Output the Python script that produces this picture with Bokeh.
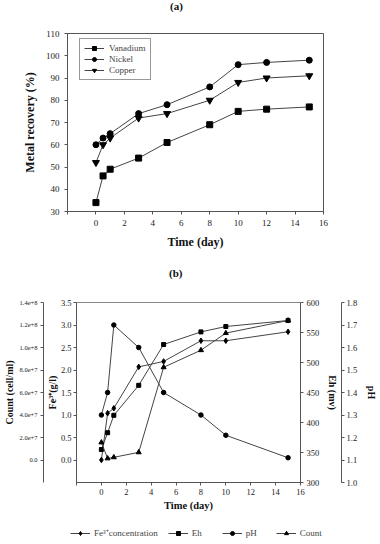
from bokeh.plotting import figure
from bokeh.models import Range1d, LinearAxis, FixedTicker, Legend, LegendItem, PrintfTickFormatter, Div
from bokeh.embed import file_html
from bokeh.resources import INLINE

FONT = "Liberation Serif"

# ---------------- data (a) ----------------
days_a = [0, 0.5, 1, 3, 5, 8, 10, 12, 15]
vanadium = [34, 46, 49, 54, 61, 69, 75, 76, 77]
nickel = [60, 63, 65, 74, 78, 86, 96, 97, 98]
copper = [52, 60, 63, 72, 74, 80, 88, 90, 91]
x_ticks = [-2, 0, 2, 4, 6, 8, 10, 12, 14, 16]
a_y_ticks = [30, 40, 50, 60, 70, 80, 90, 100, 110]

# ---------------- data (b) ----------------
days_b = [0, 0.5, 1, 3, 5, 8, 10, 15]
fe3 = [0.0, 1.04, 1.15, 2.07, 2.19, 2.65, 2.65, 2.85]
eh = [355, 383, 412, 462, 530, 551, 560, 570]
ph = [1.30, 1.40, 1.70, 1.60, 1.40, 1.30, 1.21, 1.11]
count = [1.56e7, 1.4e6, 2.4e6, 6.8e6, 8.24e7, 9.76e7, 1.128e8, 1.24e8]
fe_ticks = [0.0, 0.5, 1.0, 1.5, 2.0, 2.5, 3.0, 3.5]
eh_ticks = [300, 350, 400, 450, 500, 550, 600]
ph_ticks = [1.0, 1.1, 1.2, 1.3, 1.4, 1.5, 1.6, 1.7, 1.8]
count_ticks = [0.0, 2e7, 4e7, 6e7, 8e7, 1e8, 1.2e8, 1.4e8]
count_labels = ["0.0", "2.0e+7", "4.0e+7", "6.0e+7", "8.0e+7", "1.0e+8", "1.2e+8", "1.4e+8"]

LINE = "#444444"
AX = "#555555"


def style_axis(ax, tick_size="8.5px", label_size="11.5px"):
    ax.axis_line_color = AX
    ax.major_tick_line_color = AX
    ax.minor_tick_line_color = None
    ax.major_tick_in = 0
    ax.major_tick_out = 3
    ax.major_label_text_font = FONT
    ax.major_label_text_font_size = tick_size
    ax.major_label_text_color = "#222222"
    ax.axis_label_text_font = FONT
    ax.axis_label_text_font_style = "bold"
    ax.axis_label_text_font_size = label_size
    ax.axis_label_text_color = "#111111"


def title_div(text, height, left):
    return Div(text=text, width=380, height=height,
               styles={"font-family": "'Liberation Serif', serif", "font-size": "11px",
                       "font-weight": "bold", "color": "#111111", "line-height": f"{height}px",
                       "padding-left": f"{left}px", "box-sizing": "border-box",
                       "margin": "0", "white-space": "nowrap"})


# ================= figure (a) =================
ta = title_div("(a)", 12, 170)

pa = figure(width=380, height=254, output_backend="svg", toolbar_location=None, title=None,
            x_range=Range1d(-2, 16), y_range=Range1d(30, 110),
            min_border_left=67, min_border_right=57, min_border_top=21, min_border_bottom=55)
pa.xgrid.visible = False
pa.ygrid.visible = False
pa.outline_line_color = AX

pa.xaxis.ticker = FixedTicker(ticks=x_ticks)
pa.xaxis.major_label_overrides = {-2: ""}
pa.yaxis.ticker = FixedTicker(ticks=a_y_ticks)
pa.xaxis.axis_label = "Time (day)"
pa.yaxis.axis_label = "Metal recovery (%)"
style_axis(pa.xaxis[0], "9px", "12px")
style_axis(pa.yaxis[0], "9px", "12px")
pa.xaxis.axis_label_standoff = 6
pa.yaxis.axis_label_standoff = 6

lv = pa.line(days_a, vanadium, line_color=LINE, line_width=1)
sv = pa.scatter(days_a, vanadium, marker="square", size=6, color="black")
ln = pa.line(days_a, nickel, line_color=LINE, line_width=1)
sn = pa.scatter(days_a, nickel, marker="circle", size=6, color="black")
lc = pa.line(days_a, copper, line_color=LINE, line_width=1)
sc = pa.scatter(days_a, copper, marker="inverted_triangle", size=7, color="black")

leg_a = Legend(items=[LegendItem(label="Vanadium", renderers=[lv, sv]),
                      LegendItem(label="Nickel", renderers=[ln, sn]),
                      LegendItem(label="Copper", renderers=[lc, sc])],
               location=(12, 131))
leg_a.label_text_font = FONT
leg_a.label_text_font_size = "9px"
leg_a.label_height = 9
leg_a.glyph_height = 10
leg_a.glyph_width = 20
leg_a.label_standoff = 5
leg_a.spacing = 1
leg_a.padding = 4
leg_a.margin = 0
leg_a.border_line_color = "#333333"
leg_a.border_line_width = 1
pa.add_layout(leg_a)

# ================= figure (b) =================
tb = title_div("(b)", 14, 169)

pb = figure(width=380, height=246, output_backend="svg", toolbar_location=None, title=None,
            x_range=Range1d(-2, 16), y_range=Range1d(-0.5, 3.5),
            min_border_left=75, min_border_right=69, min_border_top=22, min_border_bottom=44)
pb.xgrid.visible = False
pb.ygrid.visible = False
pb.outline_line_color = "#888888"
pb.border_fill_color = None

pb.extra_y_ranges = {"eh": Range1d(300, 600), "ph": Range1d(1.0, 1.8),
                     "count": Range1d(-2e7, 1.4e8)}

pb.xaxis.ticker = FixedTicker(ticks=x_ticks)
pb.xaxis.major_label_overrides = {-2: ""}
pb.xaxis.axis_label = "Time (day)"
style_axis(pb.xaxis[0], "8.5px", "10.5px")
pb.xaxis.major_label_standoff = 3
pb.xaxis.axis_label_standoff = 2

pb.yaxis.ticker = FixedTicker(ticks=fe_ticks)
pb.yaxis.formatter = PrintfTickFormatter(format="%.1f")
pb.yaxis.axis_label = "Fe³⁺(g/l)"
style_axis(pb.yaxis[0], "8.5px", "10px")
pb.yaxis.major_label_standoff = 2
pb.yaxis.axis_label_standoff = 0

ax_count = LinearAxis(y_range_name="count", ticker=FixedTicker(ticks=count_ticks),
                      axis_label="Count (cell/ml)")
ax_count.major_label_overrides = dict(zip(count_ticks, count_labels))
style_axis(ax_count, "6.5px", "10px")
ax_count.major_label_standoff = 3
ax_count.axis_label_standoff = 2
pb.add_layout(ax_count, "left")

ax_eh = LinearAxis(y_range_name="eh", ticker=FixedTicker(ticks=eh_ticks), axis_label="Eh (mv)")
style_axis(ax_eh, "8.5px", "10px")
ax_eh.major_label_standoff = 3
ax_eh.axis_label_standoff = 5
pb.add_layout(ax_eh, "right")

ax_ph = LinearAxis(y_range_name="ph", ticker=FixedTicker(ticks=ph_ticks), axis_label="pH")
ax_ph.formatter = PrintfTickFormatter(format="%.1f")
style_axis(ax_ph, "8.5px", "10px")
ax_ph.major_label_standoff = 2
ax_ph.axis_label_standoff = 6
pb.add_layout(ax_ph, "right")

l1 = pb.line(days_b, fe3, line_color=LINE, line_width=1)
s1 = pb.scatter(days_b, fe3, marker="diamond", size=5.5, color="black")
l2 = pb.line(days_b, eh, y_range_name="eh", line_color=LINE, line_width=1)
s2 = pb.scatter(days_b, eh, y_range_name="eh", marker="square", size=4, color="black")
l3 = pb.line(days_b, ph, y_range_name="ph", line_color=LINE, line_width=1)
s3 = pb.scatter(days_b, ph, y_range_name="ph", marker="circle", size=4.5, color="black")
l4 = pb.line(days_b, count, y_range_name="count", line_color=LINE, line_width=1)
s4 = pb.scatter(days_b, count, y_range_name="count", marker="triangle", size=5, color="black")

# ================= legend strip for (b) =================
# same series drawn again, but outside the strip's visible range (only the legend shows)
pc = figure(width=380, height=16, output_backend="svg", toolbar_location=None, title=None,
            x_axis_type=None, y_axis_type=None, min_border=0,
            x_range=Range1d(100, 101), y_range=Range1d(100, 101))
pc.outline_line_color = None
pc.xgrid.visible = False
pc.ygrid.visible = False
pc.background_fill_color = None
pc.border_fill_color = None
g1 = pc.line(days_b, fe3, line_color=LINE, line_width=1)
m1 = pc.scatter(days_b, fe3, marker="diamond", size=5, color="black")
g2 = pc.line(days_b, eh, line_color=LINE, line_width=1)
m2 = pc.scatter(days_b, eh, marker="square", size=4, color="black")
g3 = pc.line(days_b, ph, line_color=LINE, line_width=1)
m3 = pc.scatter(days_b, ph, marker="circle", size=4.5, color="black")
g4 = pc.line(days_b, count, line_color=LINE, line_width=1)
m4 = pc.scatter(days_b, count, marker="triangle", size=5, color="black")

leg_b = Legend(items=[LegendItem(label="Fe³⁺concentration", renderers=[g1, m1]),
                      LegendItem(label="Eh", renderers=[g2, m2]),
                      LegendItem(label="pH", renderers=[g3, m3]),
                      LegendItem(label="Count", renderers=[g4, m4])],
               orientation="horizontal", location=(68, 1))
leg_b.label_text_font = FONT
leg_b.label_text_font_size = "9px"
leg_b.label_height = 10
leg_b.glyph_height = 10
leg_b.glyph_width = 20
leg_b.label_standoff = 4
leg_b.spacing = 10
leg_b.padding = 2
leg_b.margin = 0
leg_b.border_line_alpha = 0
leg_b.background_fill_alpha = 0
pc.add_layout(leg_b)

open("out.html", "w").write(file_html((ta, pa, tb, pb, pc), INLINE))
